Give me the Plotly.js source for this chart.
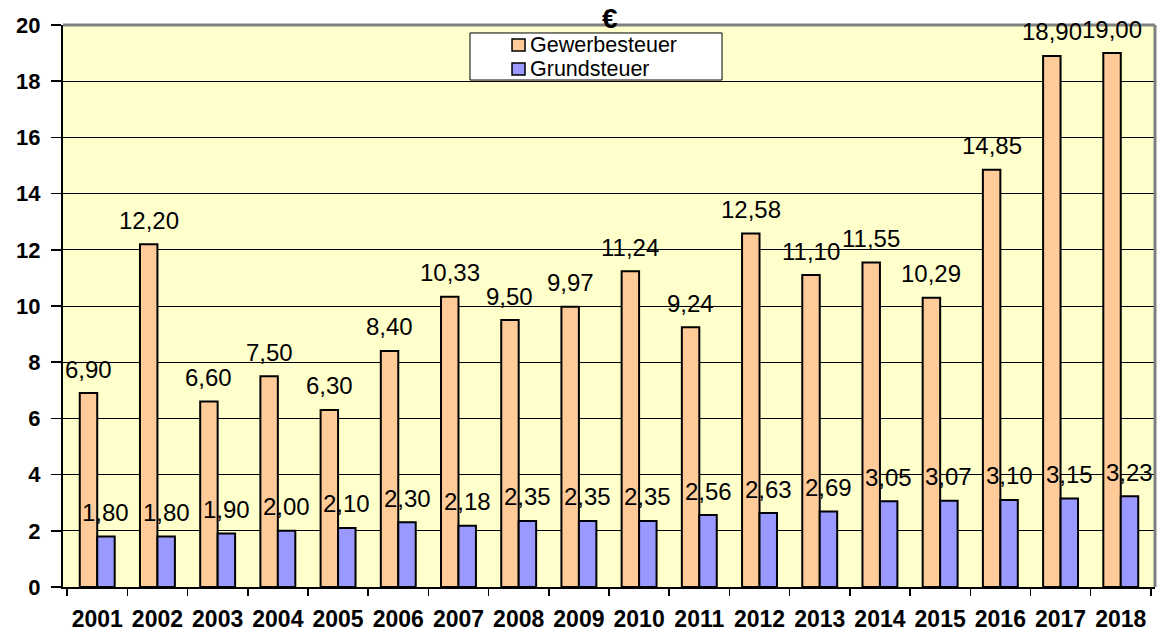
<!DOCTYPE html>
<html>
<head>
<meta charset="utf-8">
<script src="https://cdn.plot.ly/plotly-3.0.1.min.js"></script>
<style>
  html, body { margin: 0; padding: 0; background: #ffffff; }
  #chart { width: 1163px; height: 633px; }
</style>
</head>
<body>
<div id="chart"></div>
<script>
// Jahre und Steuereinnahmen (Mio. €)
const years = ['2001','2002','2003','2004','2005','2006','2007','2008','2009',
               '2010','2011','2012','2013','2014','2015','2016','2017','2018'];
const gewerbesteuer = [6.90, 12.20, 6.60, 7.50, 6.30, 8.40, 10.33, 9.50, 9.97,
                       11.24, 9.24, 12.58, 11.10, 11.55, 10.29, 14.85, 18.90, 19.00];
const grundsteuer = [1.80, 1.80, 1.90, 2.00, 2.10, 2.30, 2.18, 2.35, 2.35,
                     2.35, 2.56, 2.63, 2.69, 3.05, 3.07, 3.10, 3.15, 3.23];
const yTicks = [0, 2, 4, 6, 8, 10, 12, 14, 16, 18, 20];

const series = [
  { name: 'Gewerbesteuer', values: gewerbesteuer, color: '#FFCC99' },
  { name: 'Grundsteuer', values: grundsteuer, color: '#9999FF' }
];

const FONT = 'Liberation Sans, Arial, sans-serif';
const BAR_GAP = 0.42;
const barWidth = (1 - BAR_GAP) / series.length;   // Breite eines Balkens in Kategorie-Einheiten

const data = series.map(s => ({
  type: 'bar',
  name: s.name,
  x: years,
  y: s.values,
  marker: { color: s.color, line: { color: '#000000', width: 2 } },
  hoverinfo: 'x+y',
  showlegend: false
}));

// Wertbeschriftungen über den Balken (Dezimalkomma)
const fmt = v => v.toFixed(2).replace('.', ',');
const valueLabels = [];
series.forEach((s, k) => {
  const offset = (k - (series.length - 1) / 2) * barWidth;
  s.values.forEach((v, i) => {
    valueLabels.push({
      text: fmt(v), xref: 'x', yref: 'y', x: i + offset, y: v,
      yanchor: 'middle', yshift: 24, showarrow: false,
      font: { family: FONT, size: 24, color: '#000000' }
    });
  });
});

// Legende: Kasten, Farbfelder und Beschriftungen
const legendBox = { x0: 0.3727, x1: 0.6035, y0: 0.9021, y1: 0.9858 };
const legendRows = [0.9644, 0.9217];
const legendShapes = [
  { type: 'rect', xref: 'paper', yref: 'paper', ...legendBox,
    fillcolor: '#ffffff', line: { color: '#000000', width: 1 }, layer: 'above' }
];
const legendTexts = [];
series.forEach((s, k) => {
  const yc = legendRows[k];
  legendShapes.push({
    type: 'rect', xref: 'paper', yref: 'paper',
    x0: 0.4112, x1: 0.4231, y0: yc - 0.0107, y1: yc + 0.0107,
    fillcolor: s.color, line: { color: '#000000', width: 1.5 }, layer: 'above'
  });
  legendTexts.push({
    text: s.name, xref: 'paper', yref: 'paper', x: 0.4258, y: yc,
    xanchor: 'left', yanchor: 'middle', height: 22, valign: 'middle', showarrow: false,
    font: { family: FONT, size: 21.5, color: '#000000' }
  });
});

const layout = {
  width: 1163,
  height: 633,
  margin: { l: 63, r: 8, t: 25, b: 46, pad: 0 },
  paper_bgcolor: '#ffffff',
  plot_bgcolor: '#FFFFCC',
  barmode: 'group',
  bargap: BAR_GAP,
  bargroupgap: 0,
  font: { family: FONT, color: '#000000' },
  showlegend: false,
  xaxis: {
    type: 'category',
    automargin: false,
    tickson: 'boundaries',
    ticks: 'outside',
    ticklen: 7,
    tickwidth: 1.5,
    tickcolor: '#000000',
    tickangle: 0,
    ticklabelstandoff: 10,
    showline: true,
    linecolor: '#000000',
    linewidth: 2,
    showgrid: false,
    tickfont: { family: FONT, size: 23, color: '#000000', weight: 'bold' },
    fixedrange: true
  },
  yaxis: {
    range: [0, 20],
    automargin: false,
    tickvals: yTicks,
    ticktext: yTicks.map(String),
    ticks: 'outside',
    ticklen: 10,
    tickwidth: 1.5,
    tickcolor: '#000000',
    ticklabelstandoff: 6,
    showline: true,
    linecolor: '#000000',
    linewidth: 2,
    showgrid: true,
    gridcolor: '#000000',
    gridwidth: 1,
    zeroline: false,
    tickfont: { family: FONT, size: 22, color: '#000000', weight: 'bold' },
    fixedrange: true
  },
  shapes: [
    // grauer Rahmen der Zeichenfläche (oben und rechts)
    { type: 'line', xref: 'paper', yref: 'paper', x0: 0, x1: 1, y0: 1, y1: 1,
      line: { color: '#808080', width: 3 }, layer: 'above' },
    { type: 'line', xref: 'paper', yref: 'paper', x0: 1, x1: 1, y0: 0, y1: 1,
      line: { color: '#808080', width: 3 }, layer: 'above' },
    ...legendShapes
  ],
  annotations: [
    { text: '€', xref: 'paper', yref: 'paper', x: 0.501, y: 1.011, yanchor: 'middle',
      showarrow: false,
      font: { family: FONT, size: 28, color: '#000000', weight: 'bold' } },
    ...valueLabels,
    ...legendTexts
  ]
};

Plotly.newPlot('chart', data, layout, { displayModeBar: false, staticPlot: true });
</script>
</body>
</html>
